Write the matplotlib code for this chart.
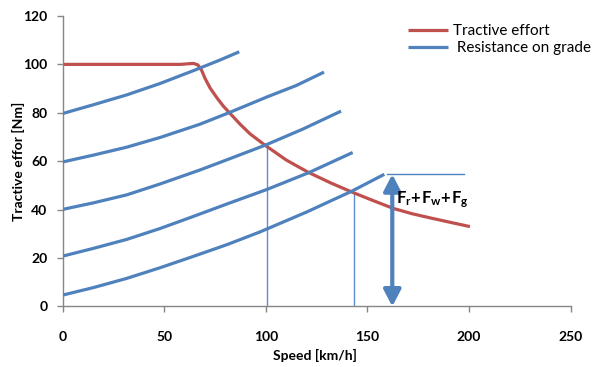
import matplotlib
matplotlib.use('Agg')
import matplotlib.pyplot as plt

plt.rcParams['font.family'] = ['Lato', 'DejaVu Sans']
plt.rcParams['mathtext.fontset'] = 'custom'
plt.rcParams['mathtext.rm'] = 'Lato'
plt.rcParams['mathtext.bf'] = 'Lato:bold'

# curva de esfuerzo de traccion
te_speed = [0, 57.8, 64.3, 66.5, 68.4, 70, 72.5, 75.8, 79, 83.2, 87.3, 92.2, 99.6,
            110, 120.9, 132, 142.2, 152, 162.7, 172, 180.8, 190, 200.4]
te_force = [100, 100, 100.4, 99.8, 97.5, 94.3, 90.3, 86.3, 82.8, 79, 75.3, 71.3, 66.6,
            60.5, 55.4, 51, 47.3, 44, 40.5, 38.3, 36.6, 34.9, 33]

# curvas de resistencia (una por pendiente)
res_speed = [
    [0, 15, 31.5, 47.9, 64.3, 77.4, 86.9],
    [0, 15, 31.5, 47.9, 67.6, 82.3, 100.4, 115, 128.6],
    [0, 15.1, 31.5, 47.9, 67.6, 77.4, 99.6, 118, 137],
    [0, 15.1, 31.5, 47.9, 64.3, 80.7, 100.4, 120.9, 142.7],
    [0, 15.1, 31.5, 47.9, 64.3, 80.7, 97.1, 120, 142.2, 158.3],
]
res_force = [
    [79.7, 83.3, 87.4, 92.1, 97.4, 101.8, 105.2],
    [59.7, 62.5, 65.8, 69.8, 75.3, 80.2, 86.5, 91.3, 96.8],
    [40.1, 42.8, 46.1, 50.6, 56.4, 59.5, 66.6, 73.2, 80.7],
    [20.8, 24, 27.7, 32.2, 37.2, 42.3, 48.3, 55.2, 63.6],
    [4.7, 7.8, 11.6, 16, 20.7, 25.5, 30.8, 39, 47.6, 54.6],
]

# puntos de operacion
op_speed = [100.4, 143.4]
op_force = [66.6, 46.5]

# flecha Fr+Fw+Fg
arrow_speed = 162.2
arrow_top = 54.6
top_line = [159.6, 197.5]

red = '#C0504D'
blue = '#4F81BD'

fig = plt.figure(figsize=(5.92, 3.67), dpi=100)
ax = fig.add_axes([0.1059, 0.1649, 0.8581, 0.7916])

ax.plot(te_speed, te_force, color=red, lw=2.3, label='Tractive effort',
        solid_capstyle='butt', zorder=2)
for i in range(len(res_speed)):
    ax.plot(res_speed[i], res_force[i], color=blue, lw=2.3, solid_capstyle='butt',
            label=' Resistance on grade' if i == 0 else None, zorder=3)

for s, f in zip(op_speed, op_force):
    ax.plot([s, s], [0, f], color='#5B8FD0', lw=1.0, zorder=1)

ax.plot(top_line, [arrow_top, arrow_top], color=blue, lw=1.0)
ax.annotate('', xy=(arrow_speed, 0), xytext=(arrow_speed, arrow_top),
            arrowprops=dict(arrowstyle='<|-|>,head_length=0.5,head_width=0.26',
                            color=blue, lw=3, mutation_scale=20,
                            shrinkA=0, shrinkB=0))
ax.text(164, 44, r'$\mathbf{F_r\!+\!F_w\!+\!F_g}$', fontsize=12, va='center',
        ha='left', color='black')

ax.set_xlim(0, 250)
ax.set_ylim(0, 120)
ax.set_xticks(range(0, 251, 50))
ax.set_yticks(range(0, 121, 20))

for sp in ['top', 'right']:
    ax.spines[sp].set_visible(False)
for sp in ['left', 'bottom']:
    ax.spines[sp].set_color('#868686')
    ax.spines[sp].set_linewidth(1.0)

ax.tick_params(axis='both', colors='#868686', length=4, width=1, labelcolor='black',
               labelsize=10)
ax.tick_params(axis='x', pad=14)
ax.tick_params(axis='y', pad=7)
for lb in ax.get_xticklabels() + ax.get_yticklabels():
    lb.set_fontweight('bold')

ax.set_xlabel('Speed [km/h]', fontsize=10, fontweight='bold')
ax.set_ylabel('Tractive effor [Nm]', fontsize=10, fontweight='bold')
ax.xaxis.set_label_coords(0.497, -0.167)
ax.xaxis.label.set_va('center')
ax.yaxis.set_label_coords(-0.088, 0.5)
ax.yaxis.label.set_va('center')

fig.legend(loc='upper left', bbox_to_anchor=(408 / 592, 1 - 24 / 367),
           frameon=False, fontsize=11, handlelength=2.6, handletextpad=0.35,
           labelspacing=0.2, borderpad=0, borderaxespad=0)

fig.savefig('out.png', dpi=100)
